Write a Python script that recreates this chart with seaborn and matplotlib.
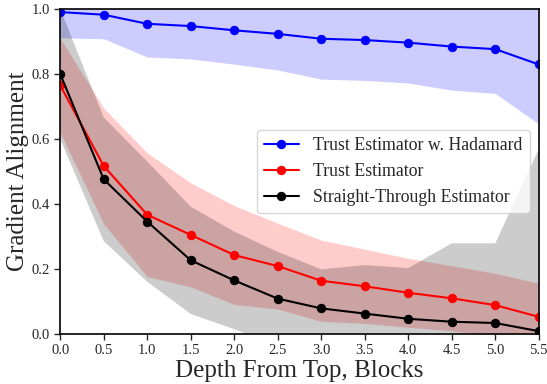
import numpy as np
import pandas as pd
import seaborn as sns
import matplotlib
matplotlib.use("Agg")
import matplotlib.pyplot as plt

# depth positions (blocks from top)
depth = [0.0, 0.5, 1.0, 1.5, 2.0, 2.5, 3.0, 3.5, 4.0, 4.5, 5.0, 5.5]

# mean gradient alignment per method
hadamard_mean = [0.990, 0.982, 0.954, 0.947, 0.934, 0.923, 0.908, 0.904, 0.896, 0.884, 0.876, 0.829]
hadamard_std = [0.079, 0.074, 0.102, 0.101, 0.104, 0.111, 0.124, 0.124, 0.124, 0.134, 0.136, 0.183]

trust_mean = [0.765, 0.517, 0.367, 0.305, 0.243, 0.209, 0.164, 0.147, 0.127, 0.110, 0.089, 0.053]
trust_std = [0.145, 0.178, 0.190, 0.160, 0.152, 0.132, 0.125, 0.114, 0.106, 0.100, 0.098, 0.103]

ste_mean = [0.800, 0.476, 0.346, 0.227, 0.165, 0.109, 0.079, 0.063, 0.047, 0.038, 0.034, 0.009]
ste_std = [0.200, 0.190, 0.185, 0.165, 0.150, 0.144, 0.120, 0.149, 0.156, 0.241, 0.245, 0.560]

labels = ["Trust Estimator w. Hadamard", "Trust Estimator", "Straight-Through Estimator"]
colors = ["blue", "red", "black"]

sns.set_style("white")
plt.rcParams["font.family"] = ["Liberation Serif", "DejaVu Serif"]
plt.rcParams["xtick.direction"] = "out"
plt.rcParams["ytick.direction"] = "out"

fig, ax = plt.subplots(figsize=(5.47, 3.84), dpi=100)
fig.subplots_adjust(left=0.11, right=0.985, top=0.977, bottom=0.13)

series = [(hadamard_mean, hadamard_std), (trust_mean, trust_std), (ste_mean, ste_std)]
for (m, s), lab, col in zip(series, labels, colors):
    m = np.array(m)
    s = np.array(s)
    df = pd.DataFrame({"depth": depth, "alignment": m})
    sns.lineplot(data=df, x="depth", y="alignment", ax=ax, color=col, marker="o",
                 markersize=6, markeredgecolor=col, linewidth=1.5, label=lab)
    ax.fill_between(depth, m - s, m + s, color=col, alpha=0.2, linewidth=0)

ax.set_xlim(0, 5.5)
ax.set_ylim(0, 1.0)
ax.set_xticks(np.arange(0, 5.51, 0.5))
ax.set_yticks(np.arange(0, 1.01, 0.2))
ax.tick_params(axis="both", labelsize=10.5, length=4, width=1, bottom=True, left=True)
for sp in ax.spines.values():
    sp.set_color("black")
    sp.set_linewidth(1.2)

ax.set_xlabel("Depth From Top, Blocks", fontsize=18, labelpad=2)
ax.set_ylabel("Gradient Alignment", fontsize=18, labelpad=2)
ax.legend(loc="center right", fontsize=12.8, frameon=True)

fig.savefig("out.png", dpi=100)
